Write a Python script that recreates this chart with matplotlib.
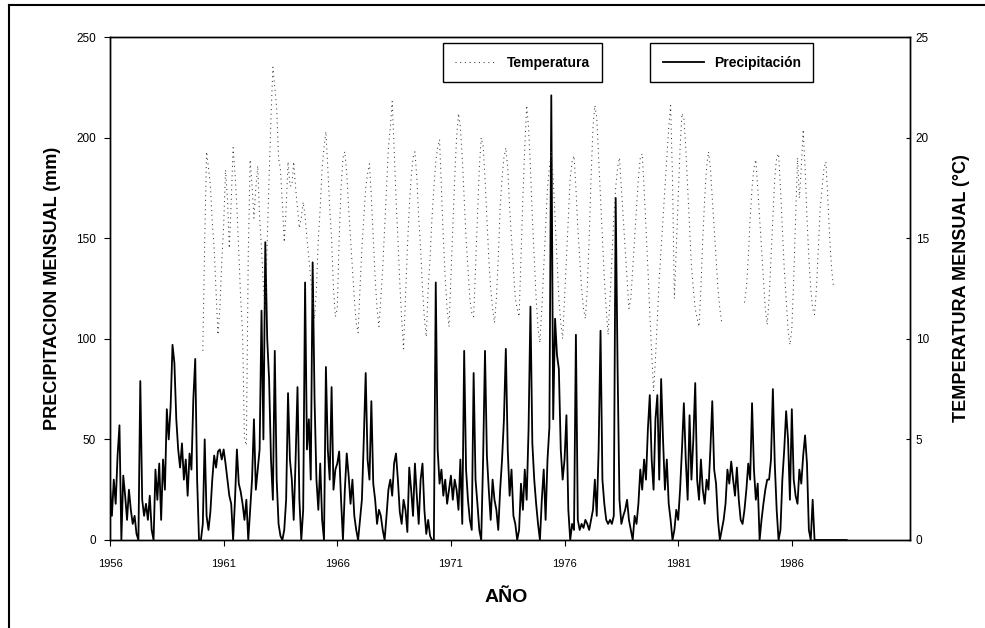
import matplotlib
matplotlib.use("Agg")
import matplotlib.pyplot as plt
import numpy as np
from matplotlib.lines import Line2D

plt.rcParams['font.family'] = ['Liberation Sans', 'DejaVu Sans']

nan = np.nan

# Monthly precipitation (mm), 12 values per line, starting Jan 1956
precip_1956_1965 = [
    27, 12, 30, 18, 42, 57, 0, 32, 22, 10, 25, 15,
    8, 12, 3, 0, 79, 20, 12, 18, 10, 22, 5, 0,
    35, 20, 38, 10, 40, 25, 65, 50, 66, 97, 88, 60,
    45, 36, 48, 30, 40, 22, 43, 35, 70, 90, 30, 0,
    0, 8, 50, 12, 5, 14, 30, 42, 36, 44, 45, 40,
    45, 38, 30, 22, 18, 0, 20, 45, 28, 24, 18, 10,
    20, 0, 15, 30, 60, 25, 35, 45, 114, 50, 148, 100,
    80, 40, 20, 94, 30, 8, 2, 0, 5, 20, 73, 40,
    30, 10, 40, 76, 20, 0, 15, 128, 45, 60, 30, 138,
    70, 30, 15, 38, 10, 0, 86, 45, 30, 76, 25, 35,
]
precip_1966_1975 = [
    38, 44, 20, 0, 25, 43, 32, 18, 30, 12, 5, 0,
    10, 20, 50, 83, 40, 30, 69, 28, 20, 8, 15, 12,
    5, 0, 12, 25, 30, 22, 38, 43, 30, 14, 8, 20,
    15, 4, 36, 25, 12, 38, 22, 8, 30, 38, 15, 3,
    10, 2, 0, 0, 128, 45, 28, 35, 22, 30, 18, 25,
    32, 20, 30, 25, 15, 40, 8, 94, 35, 20, 10, 5,
    83, 30, 18, 5, 0, 40, 94, 42, 25, 10, 30, 20,
    15, 5, 25, 40, 60, 95, 45, 22, 35, 12, 8, 0,
    5, 28, 15, 35, 20, 55, 116, 48, 30, 18, 8, 0,
    20, 35, 10, 40, 56, 221, 60, 110, 92, 85, 45, 30,
]
precip_1976_1988 = [
    40, 62, 15, 0, 8, 5, 102, 10, 5, 8, 6, 10,
    8, 5, 10, 15, 30, 12, 45, 104, 30, 18, 10, 8,
    10, 8, 12, 170, 86, 20, 8, 12, 15, 20, 10, 5,
    0, 12, 8, 18, 35, 25, 40, 30, 55, 72, 40, 25,
    60, 72, 30, 80, 50, 25, 40, 18, 10, 0, 5, 15,
    10, 25, 45, 68, 40, 20, 62, 30, 50, 78, 30, 20,
    40, 25, 18, 30, 25, 45, 69, 35, 28, 10, 0, 5,
    10, 18, 35, 28, 39, 30, 22, 36, 20, 10, 8, 15,
    25, 38, 30, 68, 35, 20, 28, 0, 10, 18, 25, 30,
    30, 40, 75, 38, 15, 0, 5, 30, 45, 64, 50, 20,
    65, 30, 22, 18, 35, 28, 42, 52, 38, 5, 0, 20,
    0, 0, 0, 0, 0, 0, 0, 0, 0, 0, 0, 0,
    0, 0, 0, 0, 0, 0,
]

# Monthly temperature (C), starting Jan 1960
temp_1960_1969 = [
    nan, 9.4, 14.8, 19.3, 18.5, 17.6, 15.8, 14.5, 12.4, 10.2, 11.5, 13.8,
    15.6, 18.4, 17.0, 14.5, 16.8, 19.5, 18.2, 16.6, 14.3, 12.0, 10.3, 5.0,
    4.7, 14.2, 18.9, 17.6, 16.0, 17.5, 18.6, 16.0, 14.5, 12.6, 11.3, 14.8,
    18.0, 21.0, 23.5, 22.5, 21.5, 19.0, 18.4, 16.8, 14.8, 16.5, 18.8, 17.6,
    17.6, 18.8, 17.5, 16.5, 15.5, 16.0, 16.8, 16.1, 15.0, 14.0, 13.0, 12.0,
    11.0, 12.5, 15.0, 16.5, 18.5, 19.5, 20.3, 18.5, 16.5, 15.0, 12.5, 11.1,
    11.5, 15.0, 17.5, 19.0, 19.3, 18.2, 16.5, 15.0, 13.5, 12.0, 10.8, 10.3,
    12.5, 14.5, 16.0, 17.5, 18.2, 18.7, 17.0, 15.0, 13.0, 11.5, 10.6, 12.0,
    13.5, 15.5, 17.5, 19.5, 20.5, 21.8, 19.5, 17.0, 15.0, 12.8, 11.0, 9.5,
    12.0, 14.5, 16.5, 18.0, 19.0, 19.3, 18.0, 16.0, 14.5, 12.5, 11.0, 10.1,
]
temp_1970_1979 = [
    12.5, 14.0, 16.0, 17.5, 18.8, 19.5, 19.9, 17.5, 15.0, 13.0, 11.5, 10.6,
    13.0, 15.5, 18.0, 20.0, 21.2, 20.5, 19.0, 17.0, 15.0, 13.5, 12.0, 11.3,
    11.1, 13.5, 16.0, 18.5, 20.0, 19.6, 18.0, 16.0, 14.0, 12.5, 11.5, 10.8,
    12.0, 14.0, 16.5, 18.0, 19.0, 19.5, 18.5, 16.5, 15.0, 13.5, 12.0, 11.5,
    11.1, 14.0, 17.0, 19.5, 21.6, 20.5, 18.5, 16.0, 14.0, 12.0, 10.5, 9.8,
    11.5, 13.5, 15.5, 17.5, 18.5, 19.3, 18.0, 16.0, 14.0, 12.0, 10.8, 10.0,
    12.0, 14.0, 16.0, 18.0, 18.8, 19.1, 17.5, 15.5, 14.0, 12.5, 11.5, 11.0,
    12.5, 15.0, 18.0, 20.5, 21.6, 21.0, 19.0, 17.0, 15.0, 13.0, 11.5, 10.2,
    12.0, 14.0, 16.0, 17.5, 18.5, 19.0, 17.5, 16.0, 14.5, 13.0, 11.5, 12.0,
    13.5, 15.0, 16.5, 18.0, 19.0, 19.2, 17.5, 15.5, 13.5, 11.3, 9.4, 7.4,
]
temp_1980_1987 = [
    9.0, 11.0, 13.0, 14.5, 16.0, 17.5, 19.0, 20.5, 21.6, 18.0, 12.0, 14.5,
    17.0, 19.5, 21.2, 21.0, 19.5, 17.5, 15.5, 13.6, 12.5, 11.5, 11.0, 10.6,
    12.5, 15.0, 17.0, 18.5, 19.3, 18.5, 17.0, 15.5, 14.0, 12.5, 11.5, 10.8,
    nan, nan, nan, nan, nan, nan, nan, nan, nan, nan, nan, 11.8,
    12.5, 14.0, 16.0, 17.5, 18.5, 18.9, 17.5, 16.0, 14.5, 13.0, 11.5, 10.7,
    12.0, 14.0, 16.0, 18.0, 19.0, 19.2, 17.5, 15.5, 13.5, 12.0, 10.5, 9.7,
    10.5, 13.0, 16.0, 19.0, 17.0, 18.5, 20.4, 18.5, 16.0, 14.0, 12.5, 11.5,
    11.2, 12.5, 14.5, 16.5, 17.5, 18.5, 18.8, 17.0, 15.0, 13.5, 12.6,
]

year_ticks = [1956, 1961, 1966, 1971, 1976, 1981, 1986]

precip = np.array(precip_1956_1965 + precip_1966_1975 + precip_1976_1988, dtype=float)
temp = np.array(temp_1960_1969 + temp_1970_1979 + temp_1980_1987, dtype=float)
x_p = 1956 + np.arange(len(precip)) / 12
x_t = 1960 + np.arange(len(temp)) / 12

fig = plt.figure(figsize=(9.85, 6.28), dpi=100)
ax = fig.add_axes([110/985, 1 - 540/628, 800/985, 503/628])
ax2 = ax.twinx()

l_t, = ax2.plot(x_t, temp, color='#3a3a3a', lw=0.75, linestyle=(0, (1, 3.5)))
l_p, = ax.plot(x_p, precip, color='black', lw=1.3)

ax.set_xlim(1956, 1991.2)
ax.set_ylim(0, 250)
ax2.set_ylim(0, 25)
ax.set_yticks([0, 50, 100, 150, 200, 250])
ax2.set_yticks([0, 5, 10, 15, 20, 25])
ax.set_xticks(year_ticks)
ax.set_xticklabels([str(y) for y in year_ticks])

ax.tick_params(axis='y', direction='out', length=4, labelsize=8.5, pad=6)
ax.tick_params(axis='x', direction='out', length=4, labelsize=8, pad=10)
ax2.tick_params(axis='y', direction='in', length=3, labelsize=8.5, pad=4)
for a in (ax, ax2):
    for s in a.spines.values():
        s.set_linewidth(1.0)

fig.text(53/985, 1 - 288/628, 'PRECIPITACION MENSUAL (mm)', rotation=90,
         ha='center', va='center', fontsize=13, fontweight='bold')
fig.text(961/985, 1 - 288/628, 'TEMPERATURA MENSUAL (°C)', rotation=90,
         ha='center', va='center', fontsize=13, fontweight='bold')
fig.text(506/985, 1 - 597/628, 'AÑO', ha='center', va='center',
         fontsize=14, fontweight='bold')

leg_kw = dict(loc='upper left', frameon=True, fancybox=False, framealpha=1,
              edgecolor='black', borderaxespad=0, handlelength=3.0,
              handletextpad=0.7, borderpad=0.9,
              prop={'weight': 'bold', 'size': 10})
leg1 = ax2.legend([l_t], ['Temperatura'], bbox_to_anchor=(0.416, 0.988), **leg_kw)
leg1.get_frame().set_linewidth(1.0)
ax2.add_artist(leg1)
leg2 = ax2.legend([l_p], ['Precipitación'], bbox_to_anchor=(0.675, 0.988), **leg_kw)
leg2.get_frame().set_linewidth(1.0)

# outer frame of the scanned figure (top and left edges)
fig.add_artist(Line2D([0.009, 1.0], [0.992, 0.992], color='black', lw=1.5,
                      transform=fig.transFigure))
fig.add_artist(Line2D([0.009, 0.009], [0.0, 0.992], color='black', lw=1.5,
                      transform=fig.transFigure))

fig.savefig('out.png', dpi=100)
